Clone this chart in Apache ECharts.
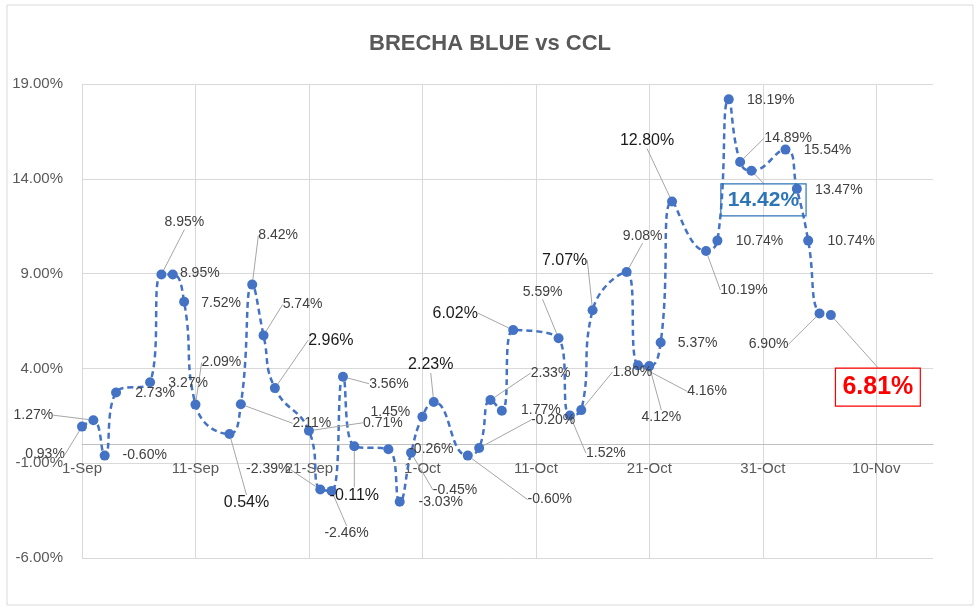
<!DOCTYPE html>
<html><head><meta charset="utf-8">
<script src="https://cdn.jsdelivr.net/npm/echarts@6/dist/echarts.min.js"></script>
<style>html,body{margin:0;padding:0;background:#fff}#c{width:980px;height:610px}</style>
</head><body><div id="c"></div>
<script>
// ---- data ----
const dates = [
  '2020-09-01','2020-09-02','2020-09-03','2020-09-04',
  '2020-09-07','2020-09-08','2020-09-09','2020-09-10','2020-09-11',
  '2020-09-14','2020-09-15','2020-09-16','2020-09-17','2020-09-18',
  '2020-09-21','2020-09-22','2020-09-23','2020-09-24','2020-09-25',
  '2020-09-28','2020-09-29','2020-09-30','2020-10-01','2020-10-02',
  '2020-10-05','2020-10-06','2020-10-07','2020-10-08','2020-10-09',
  '2020-10-13','2020-10-14','2020-10-15','2020-10-16',
  '2020-10-19','2020-10-20','2020-10-21','2020-10-22','2020-10-23',
  '2020-10-26','2020-10-27','2020-10-28','2020-10-29','2020-10-30',
  '2020-11-02','2020-11-03','2020-11-04','2020-11-05','2020-11-06'
];
const values = [
  0.93, 1.27, -0.60, 2.73,
  3.27, 8.95, 8.95, 7.52, 2.09,
  0.54, 2.11, 8.42, 5.74, 2.96,
  0.71, -2.39, -2.46, 3.56, -0.11,
  -0.26, -3.03, -0.45, 1.45, 2.23,
  -0.60, -0.20, 2.33, 1.77, 6.02,
  5.59, 1.52, 1.80, 7.07,
  9.08, 4.16, 4.12, 5.37, 12.80,
  10.19, 10.74, 18.19, 14.89, 14.42,
  15.54, 13.47, 10.74, 6.90, 6.81
];
const yMin = -6, yMax = 19, yStep = 5;
const xStartDate = '2020-09-01', xEndDays = 75, xStepDays = 10;
const monthNames = ['Jan','Feb','Mar','Apr','May','Jun','Jul','Aug','Sep','Oct','Nov','Dec'];

// ---- label placement (style only) ----
const labelDx = [-37,-60,40,39, 38,23,27,37,26, 17,71,26,39,56, 74,-52,15,46,0, 43,41,44,-32,-3,
                 82,74,60,39,-58, -16,36,51,-28, 16,69,12,37,-25, 38,42,42,48,12, 42,42,43,-51,47];
const labelDy = [28,-5,0,1, 1,-52,-1,1,-42, 69,19,-49,-31,-48, -8,-20,42,7,49, 0,0,37,-5,-37,
                 44,-28,-27,-1,-17, -46,38,-38,-50, -36,26,51,1,-61, 39,1,1,-24,29, 1,1,1,31,72];
const leader  = [1,1,0,0, 0,1,0,0,1, 1,1,1,1,1, 1,1,1,1,1, 0,0,1,0,1,
                 1,1,1,0,1, 1,1,1,1, 1,1,1,0,1, 1,0,0,1,1, 0,0,0,1,1];
const labelKind = ['n','n','n','n', 'n','n','n','n','n', 'b','n','n','n','b', 'n','n','n','n','b',
                   'n','n','n','n','b', 'n','n','n','n','b', 'n','n','n','b', 'n','n','n','n','b',
                   'n','n','n','n','blue', 'n','n','n','n','red'];

const FONT = 'Liberation Sans';
const kindStyle = {
  n:   {fontSize: 14, color: '#404040', fontFamily: FONT},
  b:   {fontSize: 16, color: '#1a1a1a', fontFamily: FONT},
  blue:{fontSize: 21, fontWeight: 'bold', color: '#2E75B6', fontFamily: FONT,
        borderColor: '#2E75B6', borderWidth: 1.2, padding: [6, 7, 5, 7]},
  red: {fontSize: 25, fontWeight: 'bold', color: '#FF0000', fontFamily: FONT,
        borderColor: '#FF0000', borderWidth: 1.2, padding: [7, 7, 6, 7]}
};

const BASE = (function(){ const p = xStartDate.split('-').map(Number); return Date.UTC(p[0], p[1]-1, p[2]); })();
function dayOf(s) { const p = s.split('-').map(Number); return (Date.UTC(p[0], p[1]-1, p[2]) - BASE) / 86400000; }
function dayLabel(v) { const d = new Date(BASE + v * 86400000); return d.getUTCDate() + '-' + monthNames[d.getUTCMonth()]; }

const seriesData = dates.map(function(s, i) {
  return {
    value: [dayOf(s), values[i]],
    label: Object.assign({show: true}, kindStyle[labelKind[i]]),
    labelLine: {show: leader[i] === 1}
  };
});

const chart = echarts.init(document.getElementById('c'), null, {renderer: 'canvas'});
chart.setOption({
  animation: false,
  backgroundColor: '#ffffff',
  textStyle: {fontFamily: FONT},
  title: {
    text: 'BRECHA BLUE vs CCL', left: 'center', top: 28,
    textStyle: {fontSize: 22, fontWeight: 'bold', color: '#595959', fontFamily: FONT}
  },
  graphic: [{
    type: 'rect', shape: {x: 7, y: 5, width: 966, height: 600},
    style: {fill: 'none', stroke: '#d9d9d9', lineWidth: 1}, silent: true, z: -1
  }],
  grid: {left: 82, right: 47, top: 84, bottom: 52, containLabel: false},
  xAxis: {
    type: 'value', min: 0, max: xEndDays, interval: xStepDays,
    axisLine: {show: true, onZero: true, lineStyle: {color: '#bfbfbf', width: 1}},
    axisTick: {show: false},
    axisLabel: {
      color: '#595959', fontSize: 15, fontFamily: FONT, margin: -97,
      showMaxLabel: false, hideOverlap: false,
      formatter: function(v) { return v >= xEndDays ? '' : dayLabel(v); }
    },
    splitLine: {show: true, showMaxLine: false, lineStyle: {color: '#d9d9d9', width: 1}}
  },
  yAxis: {
    type: 'value', min: yMin, max: yMax, interval: yStep,
    axisLine: {show: false}, axisTick: {show: false},
    axisLabel: {color: '#595959', fontSize: 15, fontFamily: FONT, margin: 19,
      formatter: function(v) { return v.toFixed(2) + '%'; }},
    splitLine: {show: true, lineStyle: {color: '#d9d9d9', width: 1}}
  },
  series: [{
    type: 'line',
    data: seriesData,
    smooth: 0.5,
    symbol: 'circle', symbolSize: 10,
    itemStyle: {color: '#4472C4'},
    lineStyle: {color: '#4472C4', width: 2.5, type: [6, 4]},
    label: {
      show: true, position: 'right',
      formatter: function(p) { return p.value[1].toFixed(2) + '%'; }
    },
    labelLine: {show: false, lineStyle: {color: '#a6a6a6', width: 1}},
    labelLayout: function(p) {
      const i = p.dataIndex;
      const cx = p.rect.x + p.rect.width / 2, cy = p.rect.y + p.rect.height / 2;
      return {x: cx + labelDx[i], y: cy + labelDy[i], align: 'center', verticalAlign: 'middle'};
    },
    emphasis: {disabled: true}
  }]
});
</script>
</body></html>
